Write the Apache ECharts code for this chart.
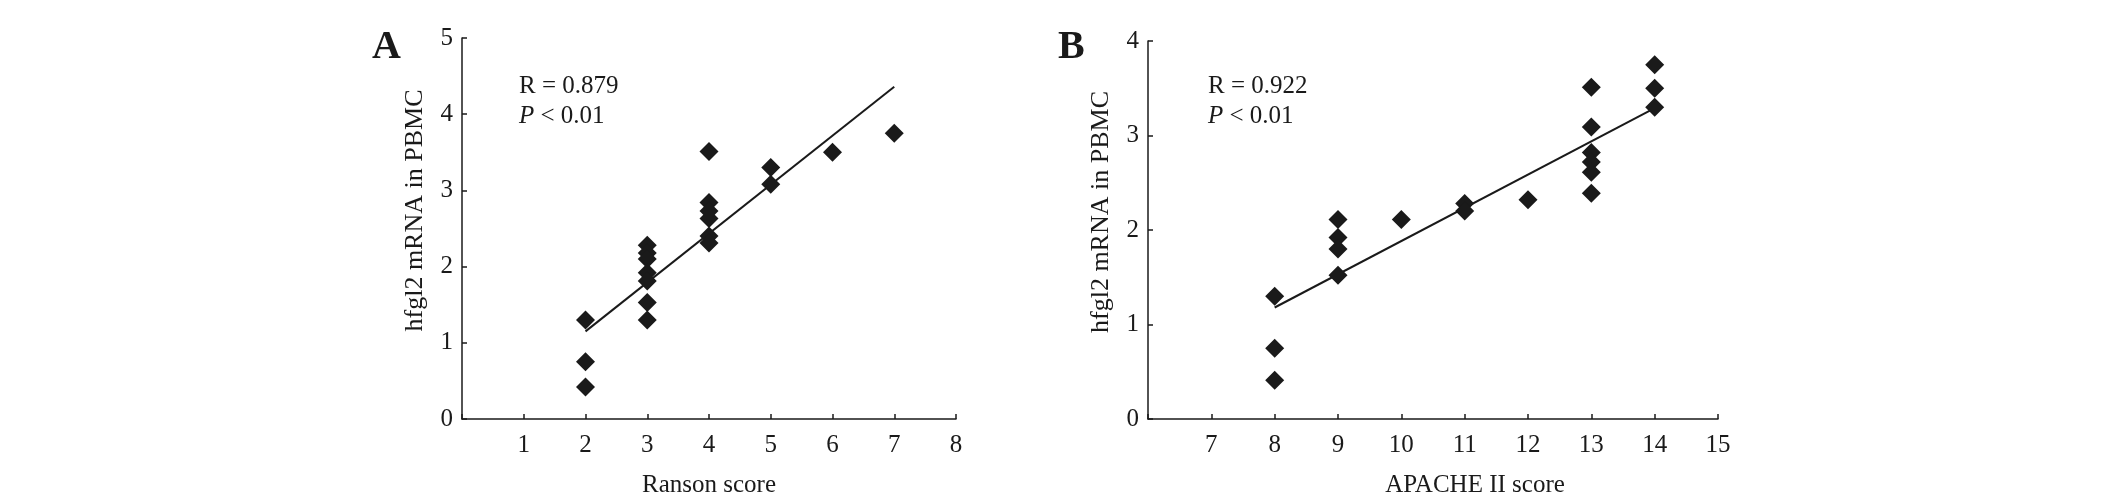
<!DOCTYPE html>
<html>
<head>
<meta charset="utf-8">
<script src="https://cdn.jsdelivr.net/npm/echarts@6/dist/echarts.min.js"></script>
<style>
html,body{margin:0;padding:0;background:#fff;}
#c{width:2126px;height:503px;}
</style>
</head>
<body>
<div id="c"></div>
<script>
// Panel A: Ranson score vs hfgl2 mRNA
var ransonX = [2,2,2,3,3,3,3,3,3,3,4,4,4,4,4,4,5,5,6,7];
var ransonY = [1.30,0.75,0.42,2.28,2.18,2.10,1.92,1.81,1.53,1.30,3.51,2.84,2.73,2.63,2.40,2.31,3.30,3.08,3.50,3.75];
var ransonFit = [[2,1.15],[7,4.36]];
// Panel B: APACHE II score vs hfgl2 mRNA
var apacheX = [8,8,8,9,9,9,9,10,11,11,12,13,13,13,13,13,13,14,14,14];
var apacheY = [1.30,0.75,0.41,2.11,1.92,1.80,1.52,2.11,2.28,2.20,2.32,3.51,3.09,2.82,2.72,2.61,2.39,3.75,3.50,3.30];
var apacheFit = [[8,1.18],[14,3.29]];
var yTitle = 'hfgl2 mRNA in PBMC';
var statsA = ['R = 0.879','P','< 0.01'];
var statsB = ['R = 0.922','P','< 0.01'];

function pairs(xs, ys){ return xs.map(function(x,i){return [x, ys[i]];}); }

var FONT = 'Liberation Serif';
var INK = '#1a1a1a';

function xAxis(idx, min, max, name, pad){
  return {
    type:'value', gridIndex: idx, min:min, max:max, interval:1,
    name:name, nameLocation:'middle', nameGap:54,
    nameTextStyle:{fontFamily:FONT, fontSize:25, color:INK, padding:[0,0,0,pad]},
    axisLine:{show:true, lineStyle:{color:INK, width:1.5}},
    axisTick:{show:true, inside:true, length:5, lineStyle:{color:INK, width:1.5}},
    axisLabel:{fontFamily:FONT, fontSize:25, color:INK, margin:14,
      formatter:function(v){ return v===min ? '' : String(v); }},
    splitLine:{show:false}
  };
}
function yAxis(idx, max){
  return {
    type:'value', gridIndex: idx, min:0, max:max, interval:1,
    name:yTitle, nameLocation:'middle', nameGap:34, nameRotate:90,
    nameTextStyle:{fontFamily:FONT, fontSize:26, color:INK, padding:[0,0,0,36]},
    axisLine:{show:true, lineStyle:{color:INK, width:1.5}},
    axisTick:{show:true, inside:true, length:5, lineStyle:{color:INK, width:1.5}},
    axisLabel:{fontFamily:FONT, fontSize:25, color:INK, margin:9},
    splitLine:{show:false}
  };
}

var chart = echarts.init(document.getElementById('c'), null, {renderer:'canvas'});
chart.setOption({
  backgroundColor:'#fff',
  animation:false,
  grid:[
    {left:462, top:38, width:494, height:385},
    {left:1148, top:41, width:570, height:382}
  ],
  xAxis:[ xAxis(0, 0, 8, 'Ranson score', 0), xAxis(1, 6, 15, 'APACHE II score', 84) ],
  yAxis:[ yAxis(0, 5), yAxis(1, 4) ],
  series:[
    {type:'line', xAxisIndex:0, yAxisIndex:0, data:ransonFit, symbol:'none',
      lineStyle:{color:INK, width:2}, z:1},
    {type:'scatter', xAxisIndex:0, yAxisIndex:0, data:pairs(ransonX, ransonY),
      symbol:'diamond', symbolSize:19, itemStyle:{color:INK, opacity:1}, z:2},
    {type:'line', xAxisIndex:1, yAxisIndex:1, data:apacheFit, symbol:'none',
      lineStyle:{color:INK, width:2}, z:1},
    {type:'scatter', xAxisIndex:1, yAxisIndex:1, data:pairs(apacheX, apacheY),
      symbol:'diamond', symbolSize:19, itemStyle:{color:INK, opacity:1}, z:2}
  ],
  graphic:[
    {type:'text', left:372, top:28, style:{text:'A', font:'bold 40px "Liberation Serif"', fill:INK}},
    {type:'text', left:1058, top:28, style:{text:'B', font:'bold 40px "Liberation Serif"', fill:INK}},
    {type:'text', left:519, top:74, style:{text:statsA[0], font:'25px "Liberation Serif"', fill:INK}},
    {type:'text', left:519, top:104, style:{text:'{i|'+statsA[1]+'} '+statsA[2], font:'25px "Liberation Serif"', fill:INK,
      rich:{i:{fontStyle:'italic', fontFamily:FONT, fontSize:25, fill:INK}}}},
    {type:'text', left:1208, top:74, style:{text:statsB[0], font:'25px "Liberation Serif"', fill:INK}},
    {type:'text', left:1208, top:104, style:{text:'{i|'+statsB[1]+'} '+statsB[2], font:'25px "Liberation Serif"', fill:INK,
      rich:{i:{fontStyle:'italic', fontFamily:FONT, fontSize:25, fill:INK}}}}
  ]
});
</script>
</body>
</html>
